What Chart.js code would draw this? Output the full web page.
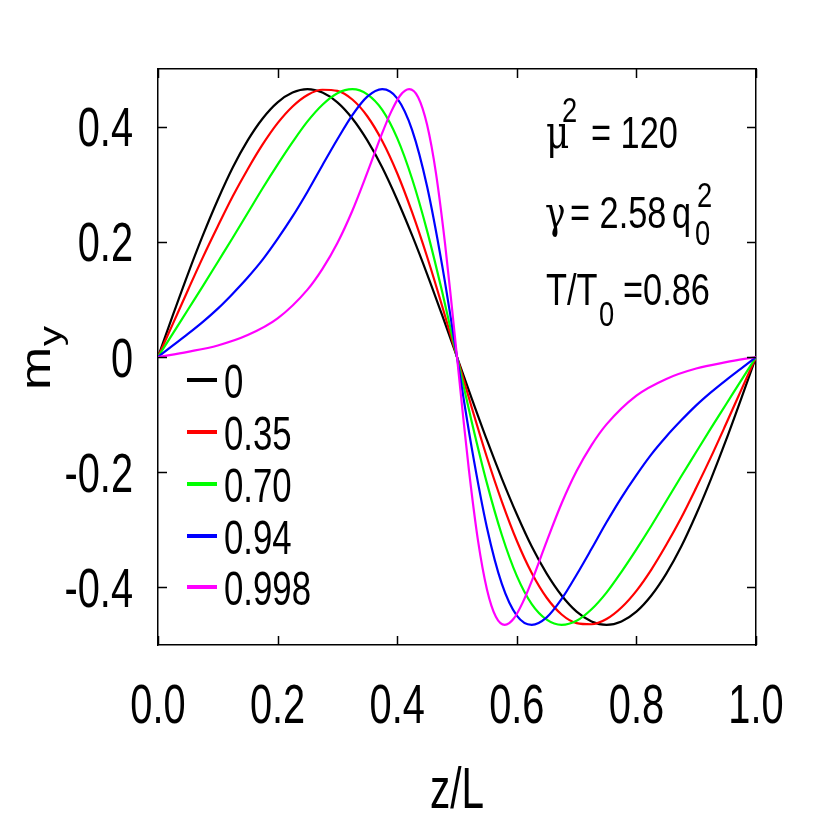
<!DOCTYPE html>
<html lang="en">
<head>
<meta charset="UTF-8">
<title>m_y versus z/L</title>
<script src="https://cdn.jsdelivr.net/npm/chart.js"></script>
<style>
  html, body { margin: 0; padding: 0; background: #fff; }
  #wrap { width: 830px; height: 830px; }
</style>
</head>
<body>
<div id="wrap"><canvas id="chart" width="830" height="830"></canvas></div>
<script>
// values (z/L on x, m_y on y)
const zGrid = [0, 0.025, 0.05, 0.075, 0.1, 0.125, 0.15, 0.175, 0.2, 0.225, 0.25, 0.275, 0.3, 0.325, 0.35, 0.375, 0.4, 0.425, 0.45, 0.475,
  0.5, 0.525, 0.55, 0.575, 0.6, 0.625, 0.65, 0.675, 0.7, 0.725, 0.75, 0.775, 0.8, 0.825, 0.85, 0.875, 0.9, 0.925, 0.95, 0.975, 1.0];

const myBlack = [0, 0.073, 0.144, 0.211, 0.273, 0.329, 0.376, 0.414, 0.442, 0.459, 0.465, 0.459, 0.442, 0.414, 0.376, 0.329, 0.273, 0.211, 0.144, 0.073,
  0, -0.073, -0.144, -0.211, -0.273, -0.329, -0.376, -0.414, -0.442, -0.459, -0.465, -0.459, -0.442, -0.414, -0.376, -0.329, -0.273, -0.211, -0.144, -0.073, 0];

const myRed = [0, 0.058, 0.116, 0.173, 0.227, 0.279, 0.326, 0.369, 0.406, 0.435, 0.455, 0.464, 0.462, 0.447, 0.418, 0.375, 0.319, 0.251, 0.174, 0.089,
  0, -0.089, -0.174, -0.251, -0.319, -0.375, -0.418, -0.447, -0.462, -0.464, -0.455, -0.435, -0.406, -0.369, -0.326, -0.279, -0.227, -0.173, -0.116, -0.058, 0];

const myGreen = [0, 0.041, 0.082, 0.123, 0.165, 0.207, 0.250, 0.293, 0.334, 0.373, 0.409, 0.438, 0.458, 0.465, 0.456, 0.429, 0.380, 0.309, 0.219, 0.114,
  0, -0.114, -0.219, -0.309, -0.380, -0.429, -0.456, -0.465, -0.458, -0.438, -0.409, -0.373, -0.334, -0.293, -0.250, -0.207, -0.165, -0.123, -0.082, -0.041, 0];

const myBlue = [0, 0.020, 0.040, 0.061, 0.084, 0.110, 0.138, 0.169, 0.205, 0.244, 0.287, 0.333, 0.378, 0.420, 0.452, 0.465, 0.449, 0.394, 0.296, 0.160,
  0, -0.160, -0.296, -0.394, -0.449, -0.465, -0.452, -0.420, -0.378, -0.333, -0.287, -0.244, -0.205, -0.169, -0.138, -0.110, -0.084, -0.061, -0.040, -0.020, 0];

// the 0.998 curve is sharp near the middle, so it is read on its own grid
const zMagenta = [0, 0.05, 0.1, 0.15, 0.2, 0.25, 0.275, 0.3, 0.325, 0.35, 0.375, 0.39, 0.405, 0.42, 0.435, 0.45, 0.465, 0.48, 0.49,
  0.5, 0.51, 0.52, 0.535, 0.55, 0.565, 0.58, 0.595, 0.61, 0.625, 0.65, 0.675, 0.7, 0.725, 0.75, 0.8, 0.85, 0.9, 0.95, 1.0];
const myMagenta = [0, 0.009, 0.020, 0.038, 0.067, 0.117, 0.153, 0.198, 0.254, 0.320, 0.389, 0.426, 0.454, 0.465, 0.451, 0.403, 0.318, 0.197, 0.101,
  0, -0.101, -0.197, -0.318, -0.403, -0.451, -0.465, -0.454, -0.426, -0.389, -0.320, -0.254, -0.198, -0.153, -0.117, -0.067, -0.038, -0.020, -0.009, 0];

const seriesLabels = ['0', '0.35', '0.70', '0.94', '0.998'];
const seriesColors = ['#000000', '#ff0000', '#00ff00', '#0000ff', '#ff00ff'];

const xTicks = [0, 0.2, 0.4, 0.6, 0.8, 1.0];
const xTickLabels = ['0.0', '0.2', '0.4', '0.6', '0.8', '1.0'];
const yTicks = [-0.4, -0.2, 0, 0.2, 0.4];
const yTickLabels = ['-0.4', '-0.2', '0', '0.2', '0.4'];

const FONT = '"Liberation Sans", Arial, Helvetica, sans-serif';
const GREEK = '"DejaVu Serif", "Liberation Serif", serif';
const SX = 0.71;      // lettering in the original is squeezed sideways
const SX_NOTE = 0.78;
const TICK = 9;

function squeezed(ctx, str, x, y, size, align, sx, family) {
  ctx.save();
  ctx.translate(x, y);
  ctx.scale(sx || SX, 1);
  ctx.font = size + 'px ' + (family || FONT);
  ctx.textAlign = align || 'left';
  ctx.textBaseline = 'alphabetic';
  ctx.fillStyle = '#000';
  ctx.fillText(str, 0, 0);
  ctx.restore();
}

function pts(xs, ys) {
  return xs.map((v, i) => ({ x: v, y: ys[i] }));
}

const curves = [
  pts(zGrid, myBlack), pts(zGrid, myRed), pts(zGrid, myGreen), pts(zGrid, myBlue), pts(zMagenta, myMagenta)
];

const decorations = {
  id: 'decorations',
  afterDraw(chart) {
    const { ctx, chartArea: a, scales: { x, y } } = chart;

    // inward ticks on all four sides
    ctx.save();
    ctx.strokeStyle = '#000';
    ctx.lineWidth = 1.5;
    ctx.beginPath();
    x.ticks.forEach(t => {
      const px = Math.round(x.getPixelForValue(t.value)) + 0.5;
      ctx.moveTo(px, a.bottom); ctx.lineTo(px, a.bottom - TICK);
      ctx.moveTo(px, a.top); ctx.lineTo(px, a.top + TICK);
    });
    y.ticks.forEach(t => {
      const py = Math.round(y.getPixelForValue(t.value)) + 0.5;
      ctx.moveTo(a.left, py); ctx.lineTo(a.left + TICK, py);
      ctx.moveTo(a.right, py); ctx.lineTo(a.right - TICK, py);
    });
    ctx.stroke();
    ctx.restore();

    // tick labels
    x.ticks.forEach((t, i) => {
      squeezed(ctx, xTickLabels[i], x.getPixelForValue(t.value), 723, 56, 'center');
    });
    y.ticks.forEach((t, i) => {
      squeezed(ctx, yTickLabels[i], 133, y.getPixelForValue(t.value) + 19.5, 56, 'right');
    });

    // axis titles
    squeezed(ctx, 'z/L', 457, 808, 57, 'center');
    ctx.save();
    ctx.translate(50, 390);
    ctx.scale(0.8, 1);
    ctx.rotate(-Math.PI / 2);
    ctx.fillStyle = '#000';
    ctx.font = '52px ' + FONT;
    ctx.textBaseline = 'alphabetic';
    ctx.fillText('m', 0, 0);
    ctx.font = '40px ' + FONT;
    ctx.fillText('y', 44, 14);
    ctx.restore();

    // legend
    const legendY = [380, 432, 484, 536, 587];
    chart.data.datasets.forEach((ds, i) => {
      ctx.save();
      ctx.strokeStyle = ds.borderColor;
      ctx.lineWidth = 4;
      ctx.beginPath();
      ctx.moveTo(187, legendY[i]);
      ctx.lineTo(217, legendY[i]);
      ctx.stroke();
      ctx.restore();
      squeezed(ctx, ds.label, 224, legendY[i] + 17.5, 49, 'left');
    });

    // parameter notes
    squeezed(ctx, '\u03bc', 546, 148, 46, 'left', SX_NOTE, GREEK);
    squeezed(ctx, '2', 562, 122, 35, 'left', SX_NOTE);
    squeezed(ctx, '= 120', 591, 148, 44, 'left', SX_NOTE);

    squeezed(ctx, '\u03b3', 545, 228, 44, 'left', SX_NOTE, GREEK);
    squeezed(ctx, '= 2.58', 570, 228, 44, 'left', SX_NOTE);
    squeezed(ctx, 'q', 672, 228, 44, 'left', SX_NOTE);
    squeezed(ctx, '0', 695, 245, 35, 'left', SX_NOTE);
    squeezed(ctx, '2', 697, 207, 35, 'left', SX_NOTE);

    squeezed(ctx, 'T/T', 546, 305, 44, 'left', SX_NOTE);
    squeezed(ctx, '0', 599, 326, 35, 'left', SX_NOTE);
    squeezed(ctx, '=0.86', 623, 305, 44, 'left', SX_NOTE);
  }
};

const frameAxis = (position) => ({
  type: 'linear',
  position: position,
  display: true,
  grid: { display: false },
  ticks: { display: false },
  border: { display: true, color: '#000', width: 1.5 }
});

new Chart(document.getElementById('chart'), {
  type: 'line',
  data: {
    datasets: curves.map((d, i) => ({
      label: seriesLabels[i],
      data: d,
      borderColor: seriesColors[i],
      backgroundColor: seriesColors[i],
      borderWidth: 2.2,
      pointRadius: 0,
      fill: false,
      cubicInterpolationMode: 'monotone',
      order: curves.length - i
    }))
  },
  options: {
    responsive: false,
    animation: false,
    devicePixelRatio: 1,
    layout: { padding: { left: 150, right: 66, top: 61, bottom: 177 } },
    plugins: { legend: { display: false }, tooltip: { enabled: false } },
    scales: {
      x: Object.assign(frameAxis('bottom'), {
        min: 0, max: 1,
        afterBuildTicks: axis => { axis.ticks = xTicks.map(v => ({ value: v })); }
      }),
      y: Object.assign(frameAxis('left'), {
        min: -0.5, max: 0.5,
        afterBuildTicks: axis => { axis.ticks = yTicks.map(v => ({ value: v })); }
      }),
      x2: Object.assign(frameAxis('top'), { min: 0, max: 1 }),
      y2: Object.assign(frameAxis('right'), { min: -0.5, max: 0.5 })
    }
  },
  plugins: [decorations]
});
</script>
</body>
</html>
